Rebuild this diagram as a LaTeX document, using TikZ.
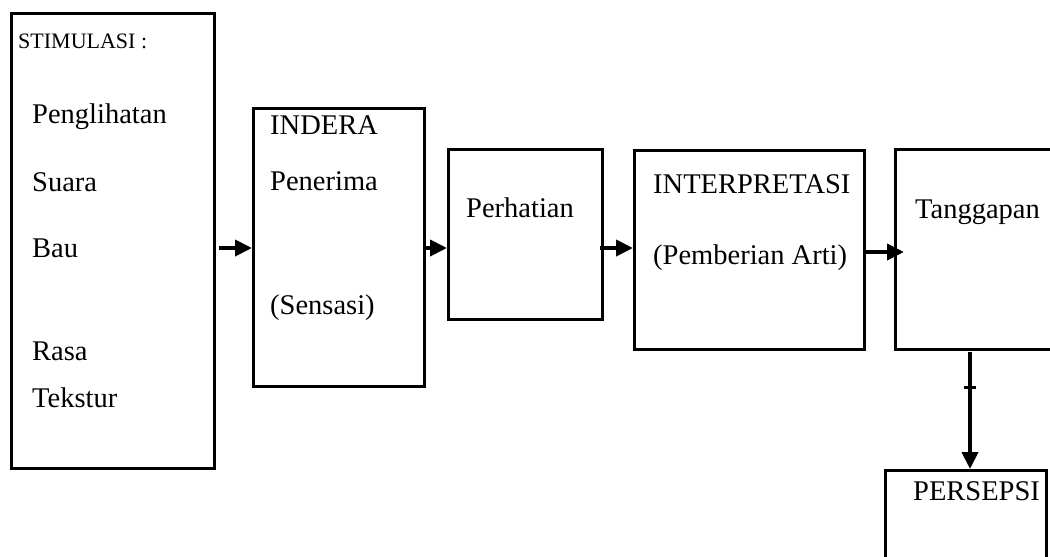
\documentclass[tikz,border=0pt]{standalone}
\usepackage{fontspec}
\setmainfont{Liberation Serif}
\usetikzlibrary{arrows.meta}

\tikzset{
  box/.style={draw, line width=3pt, inner sep=0pt, anchor=north west, rectangle},
  lbl/.style={anchor=base west, inner sep=0pt, font=\fontsize{28.5}{34}\selectfont},
  smalllbl/.style={anchor=base west, inner sep=0pt, font=\fontsize{22}{26}\selectfont},
  arr/.style={line width=4pt, -{Triangle[length=17pt,width=16pt]}},
}

\begin{document}
\begin{tikzpicture}[x=1pt,y=-1pt]
  \useasboundingbox (0,0) rectangle (1050,557);
  \clip (0,0) rectangle (1050,557);

  % process boxes
  \node[box, minimum width=203pt, minimum height=455pt] (stim)      at (10,12)   {};
  \node[box, minimum width=171pt, minimum height=278pt] (indera)    at (252,107) {};
  \node[box, minimum width=154pt, minimum height=170pt] (perhatian) at (447,148) {};
  \node[box, minimum width=230pt, minimum height=199pt] (interp)    at (633,149) {};
  \node[box, minimum width=180pt, minimum height=200pt] (tanggap)   at (894,148) {};
  \node[box, minimum width=161pt, minimum height=120pt] (persepsi)  at (884,469) {};

  % stimulus list
  \node[smalllbl] (tstim) at (18,48)  {STIMULASI :};
  \node[lbl] (t1) at (32,123) {Penglihatan};
  \node[lbl] (t2) at (32,191) {Suara};
  \node[lbl] (t3) at (32,257) {Bau};
  \node[lbl] (t4) at (32,360) {Rasa};
  \node[lbl] (t5) at (32,407) {Tekstur};

  % sense organ
  \node[lbl] (ti1) at (270,134) {INDERA};
  \node[lbl] (ti2) at (270,190) {Penerima};
  \node[lbl] (ti3) at (270,314) {(Sensasi)};

  \node[lbl] (tp)  at (466,217) {Perhatian};
  \node[lbl] (tn1) at (653,193) {INTERPRETASI};
  \node[lbl] (tn2) at (653,264) {(Pemberian Arti)};
  \node[lbl] (tt)  at (915,218) {Tanggapan};
  \node[lbl] (tps) at (913,500) {PERSEPSI};

  % flow arrows
  \coordinate (row) at (0,248);
  \draw[arr] ([xshift=3pt]stim.east |- row) -- (indera.west |- row);
  \draw[arr] ([xshift=-3pt]indera.east |- row) -- (perhatian.west |- row);
  \draw[arr] ([xshift=-4pt]perhatian.east |- row) -- (interp.west |- row);
  \coordinate (tip4) at (904,252);
  \draw[arr] ([xshift=-3pt]interp.east |- tip4) -- (tip4);

  \coordinate (vx) at (970,0);
  \draw[arr] ([yshift=-1pt]tanggap.south -| vx) -- (persepsi.north -| vx);
  \draw[line width=3pt] (964,387) -- (976,387);
\end{tikzpicture}
\end{document}
